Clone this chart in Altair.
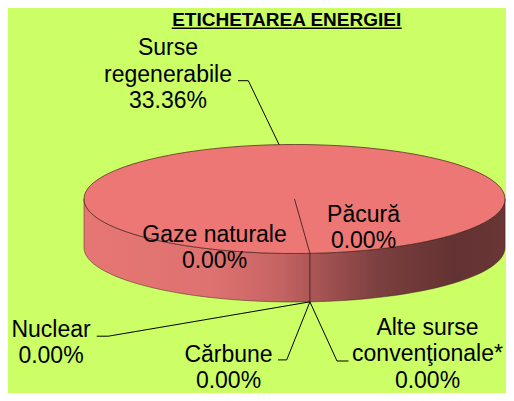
import math
import altair as alt
import pandas as pd

# ---------------- data ----------------
categories = ["Surse regenerabile", "Gaze naturale", "Păcură", "Nuclear",
              "Cărbune", "Alte surse convenţionale*"]
label_names = ["Surse\nregenerabile", "Gaze naturale", "Păcură", "Nuclear",
               "Cărbune", "Alte surse\nconvenţionale*"]
values = [33.36, 0.0, 0.0, 0.0, 0.0, 0.0]
title_text = "ETICHETAREA ENERGIEI"

# ---------------- layout (page pixels) ----------------
W, H = 498, 385
X0, X1, Y0, Y1 = 8, 8 + W, 8, 8 + H
CX, CY, RX, RY, DEPTH = 294.5, 199.0, 210.5, 54.5, 48.5
START_DEG = 175.8
label_x = [168, 214.5, 363.5, 51, 228.5, 427.5]
label_y = [55, 241.7, 221.7, 336.7, 361.5, 334.5]
# leader: (x at label end, x at elbow, y) or None
leaders = [(238, 248.3, 80.7), None, None, (96.7, 108.3, 336.2),
           (278, 286.7, 359.9), (348.5, 337, 361)]

FONT = "Liberation Sans"
BG = "#CCFF66"

xs = alt.Scale(domain=[X0, X1], nice=False, zero=False)
ys = alt.Scale(domain=[Y0, Y1], nice=False, zero=False, reverse=True)


def enc(**kw):
    return dict(x=alt.X("x:Q", scale=xs, axis=None),
                y=alt.Y("y:Q", scale=ys, axis=None), **kw)


# slice angles from the data
total = sum(values)
cum = 0.0
mids = []
for v in values:
    a0 = START_DEG + 360 * cum / total
    cum += v
    a1 = START_DEG + 360 * cum / total
    mids.append((a0 + a1) / 2)


def rim(theta_deg, drop=0.0):
    t = math.radians(theta_deg)
    return CX + RX * math.sin(t), CY - RY * math.cos(t) + drop


# ---------------- pie body ----------------
k = RY / RX
d = DEPTH / RX
side_path = (f"M -1 0 A 1 {k:.4f} 0 0 0 1 0 L 1 {d:.4f} "
             f"A 1 {k:.4f} 0 0 1 -1 {d:.4f} Z")
top_path = f"M -1 0 A 1 {k:.4f} 0 1 1 1 0 A 1 {k:.4f} 0 1 1 -1 0 Z"
size = (2 * RX) ** 2
center_df = pd.DataFrame({"x": [CX], "y": [CY]})

side_grad = alt.Gradient(
    gradient="linear", x1=0, x2=1, y1=0, y2=0,
    stops=[alt.GradientStop(color="#E67673", offset=0),
           alt.GradientStop(color="#DE7270", offset=0.3),
           alt.GradientStop(color="#C46363", offset=0.47),
           alt.GradientStop(color="#A85555", offset=0.55),
           alt.GradientStop(color="#7C3F3F", offset=0.7),
           alt.GradientStop(color="#633232", offset=0.88),
           alt.GradientStop(color="#6A3636", offset=1)])

side = alt.Chart(center_df).mark_point(
    shape=side_path, size=size, filled=True, fill=side_grad, opacity=1,
    stroke="#3a1c1c", strokeWidth=0.8, strokeOpacity=0.6
).encode(**enc())

top = alt.Chart(center_df).mark_point(
    shape=top_path, size=size, filled=True, fill="#EC7774", opacity=1,
    stroke="#4a2222", strokeWidth=0.9, strokeOpacity=0.8
).encode(**enc())

# slice boundary (radial line on top + vertical edge on side)
bx, by = rim(START_DEG)
bound_df = pd.DataFrame({"x": [CX, bx, bx], "y": [CY, by, by + DEPTH],
                         "o": [0, 1, 2]})
boundary = alt.Chart(bound_df).mark_line(
    color="#3a1c1c", strokeWidth=1, opacity=0.85
).encode(**enc(order="o:Q"))

# ---------------- leaders ----------------
rows = []
for i, ld in enumerate(leaders):
    if ld is None:
        continue
    xe, xb, yl = ld
    th = mids[i]
    front = math.cos(math.radians(th)) < 0
    ax, ay = rim(th, DEPTH if front else 0.0)
    for o, (px, py) in enumerate([(xe, yl), (xb, yl), (ax, ay)]):
        rows.append({"g": categories[i], "o": o, "x": px, "y": py})
lead_df = pd.DataFrame(rows)
lead = alt.Chart(lead_df).mark_line(color="#000000", strokeWidth=1).encode(
    **enc(detail="g:N", order="o:Q"))

# ---------------- labels ----------------
lab_df = pd.DataFrame({
    "x": label_x, "y": label_y,
    "t": [f"{n}\n{v:.2f}%" for n, v in zip(label_names, values)]})
labels = alt.Chart(lab_df).mark_text(
    font=FONT, fontSize=23, lineBreak="\n", lineHeight=26.5,
    align="center", baseline="alphabetic", color="#000000"
).encode(**enc(text="t:N"))

# ---------------- title ----------------
title_df = pd.DataFrame({"x": [286.7], "y": [26.0], "t": [title_text]})
title = alt.Chart(title_df).mark_text(
    font=FONT, fontSize=19, fontWeight="bold", align="center",
    baseline="alphabetic", color="#000000"
).encode(**enc(text="t:N"))
ul_df = pd.DataFrame({"x": [171.7], "x2": [401.7], "y": [28.3]})
underline = alt.Chart(ul_df).mark_rule(color="#000000", strokeWidth=1.6).encode(
    x=alt.X("x:Q", scale=xs, axis=None), x2="x2:Q",
    y=alt.Y("y:Q", scale=ys, axis=None))

chart = alt.layer(side, top, boundary, lead, labels, title, underline).properties(
    width=W, height=H, padding=0,
    autosize=alt.AutoSizeParams(type="none"),
    background=BG
).configure_view(stroke=None)

chart.save("out.html", embed_options={"renderer": "svg", "actions": False})
